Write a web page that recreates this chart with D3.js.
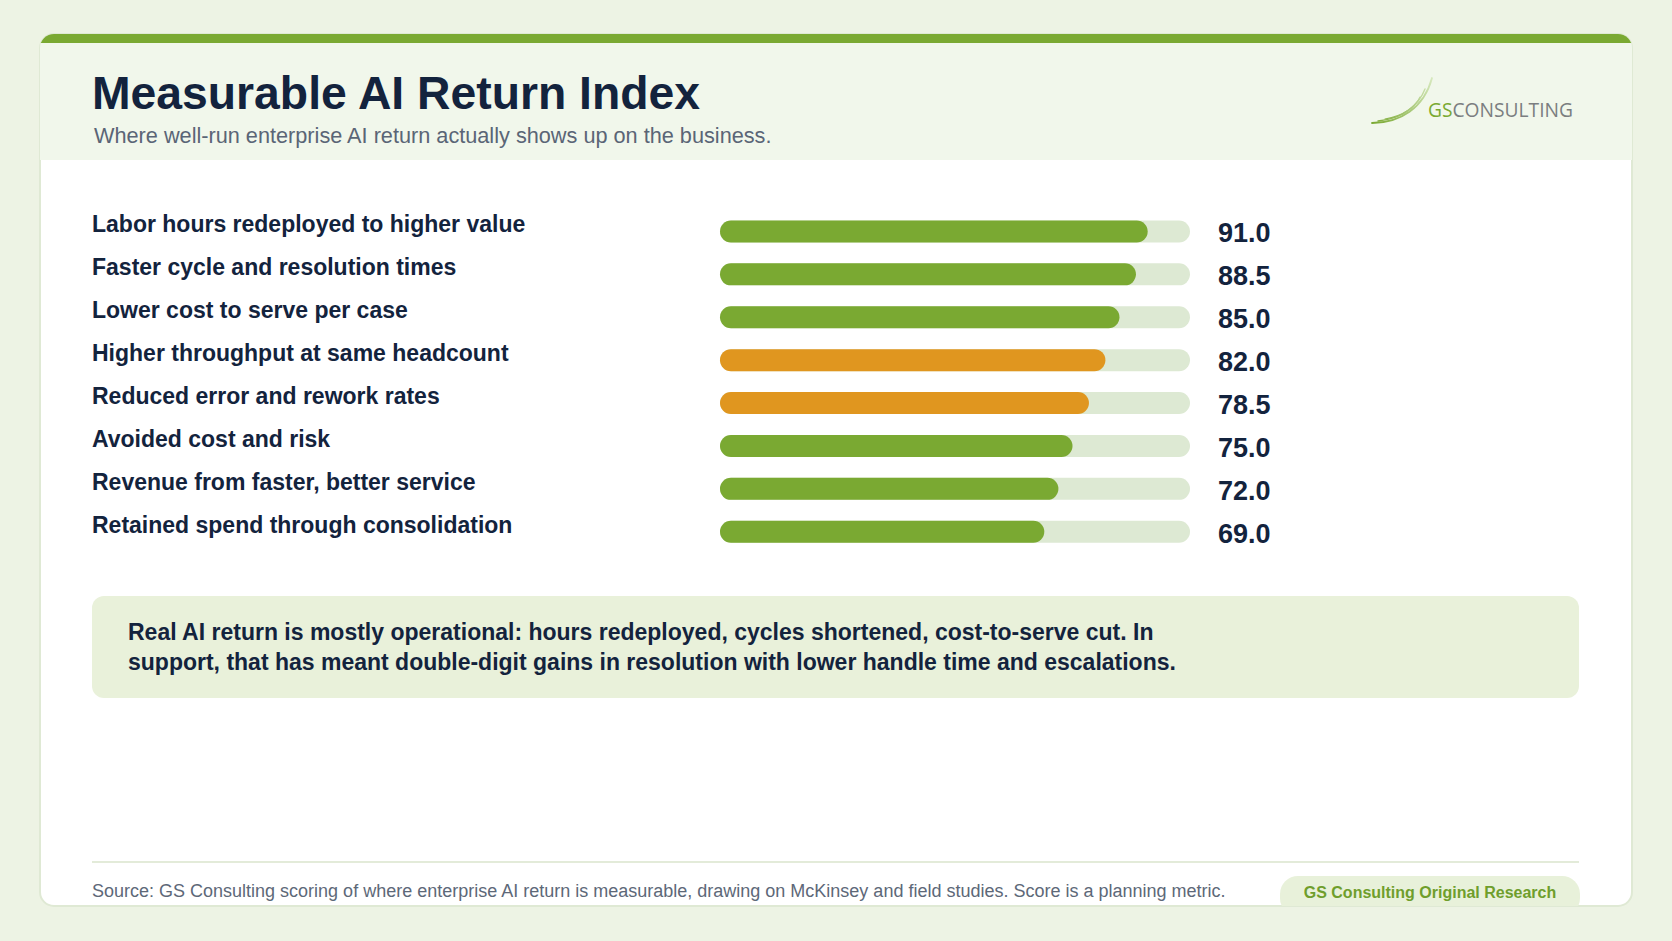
<!DOCTYPE html>
<html>
<head>
<meta charset="utf-8">
<script src="https://cdn.jsdelivr.net/npm/d3@7"></script>
<style>
  html, body { margin: 0; padding: 0; background: #edf3e4; }
  svg { display: block; font-family: "Liberation Sans", Arial, sans-serif; }
</style>
</head>
<body>
<div id="chart"></div>
<script>
var categories = [
  "Labor hours redeployed to higher value",
  "Faster cycle and resolution times",
  "Lower cost to serve per case",
  "Higher throughput at same headcount",
  "Reduced error and rework rates",
  "Avoided cost and risk",
  "Revenue from faster, better service",
  "Retained spend through consolidation"
];
var scores = [91.0, 88.5, 85.0, 82.0, 78.5, 75.0, 72.0, 69.0];
var highlighted = [
  "Higher throughput at same headcount",
  "Reduced error and rework rates"
];
var scoreDomain = [0, 100];

var title = "Measurable AI Return Index";
var subtitle = "Where well-run enterprise AI return actually shows up on the business.";
var takeaway = [
  "Real AI return is mostly operational: hours redeployed, cycles shortened, cost-to-serve cut. In",
  "support, that has meant double-digit gains in resolution with lower handle time and escalations."
];
var source = "Source: GS Consulting scoring of where enterprise AI return is measurable, drawing on McKinsey and field studies. Score is a planning metric.";
var badge = "GS Consulting Original Research";

var width = 1672, height = 941;
var navy = "#13233d", green = "#7aa932", orange = "#e0961f", track = "#dde9d3";

var svg = d3.select("#chart").append("svg")
  .attr("width", width)
  .attr("height", height);

svg.append("rect").attr("width", width).attr("height", height).attr("fill", "#edf3e4");

// card
var card = { x: 40, y: 34, w: 1592, h: 872, r: 14 };
var defs = svg.append("defs");
defs.append("clipPath").attr("id", "cardClip")
  .append("rect")
  .attr("x", card.x).attr("y", card.y)
  .attr("width", card.w).attr("height", card.h)
  .attr("rx", card.r);
var grad = defs.append("linearGradient").attr("id", "swooshGrad")
  .attr("gradientUnits", "userSpaceOnUse")
  .attr("x1", 0).attr("y1", 44).attr("x2", 60).attr("y2", 0);
grad.append("stop").attr("offset", "0%").attr("stop-color", "#7aa932");
grad.append("stop").attr("offset", "100%").attr("stop-color", "#d6e8bd");

svg.append("rect")
  .attr("x", card.x).attr("y", card.y)
  .attr("width", card.w).attr("height", card.h)
  .attr("rx", card.r)
  .attr("fill", "#ffffff")
  .attr("stroke", "#dfe9d4")
  .attr("stroke-width", 2);

var inner = svg.append("g").attr("clip-path", "url(#cardClip)");
inner.append("rect")
  .attr("x", card.x).attr("y", card.y)
  .attr("width", card.w).attr("height", 126)
  .attr("fill", "#f1f7eb");
inner.append("rect")
  .attr("x", card.x).attr("y", card.y)
  .attr("width", card.w).attr("height", 9)
  .attr("fill", green);

// header
svg.append("text")
  .attr("x", 92).attr("y", 109)
  .attr("font-size", 46.3).attr("font-weight", 700)
  .attr("fill", navy)
  .text(title);
svg.append("text")
  .attr("x", 94).attr("y", 143)
  .attr("font-size", 21.7)
  .attr("fill", "#5a6576")
  .text(subtitle);

// logo
var logo = svg.append("g").attr("transform", "translate(1372,78)");
var swoosh = [
  "M0,45 C28,45 52,30 60,0",
  "M6,43 C30,41 47,27 53,11",
  "M13,41 C32,38 44,28 48,19",
  "M20,40 C33,37 40,31 43,26"
];
logo.selectAll("path.sw").data(swoosh).enter().append("path")
  .attr("class", "sw")
  .attr("d", function(d) { return d; })
  .attr("fill", "none")
  .attr("stroke", "url(#swooshGrad)")
  .attr("stroke-linecap", "round")
  .attr("stroke-width", function(d, i) { return [1.8, 1.4, 1.2, 1][i]; });
var logoText = logo.append("text")
  .attr("x", 56).attr("y", 39)
  .attr("font-size", 20)
  .attr("font-family", "'Open Sans', sans-serif")
  .attr("font-weight", 400)
  .attr("textLength", 145)
  .attr("lengthAdjust", "spacingAndGlyphs");
logoText.append("tspan").attr("fill", green).text("GS");
logoText.append("tspan").attr("fill", "#7b7e80").text("CONSULTING");

// bars
var x = d3.scaleLinear().domain(scoreDomain).range([720, 1190]);
var y = d3.scaleBand().domain(categories).range([210, 553.2]);
var barH = 22;

var rows = svg.append("g").selectAll("g.row")
  .data(categories.map(function(c, i) { return { name: c, value: scores[i] }; }))
  .enter().append("g")
  .attr("class", "row")
  .attr("transform", function(d) { return "translate(0," + (y(d.name) + y.bandwidth() / 2) + ")"; });

rows.append("text")
  .attr("x", 92).attr("y", 1)
  .attr("font-size", 23).attr("font-weight", 700)
  .attr("fill", navy)
  .text(function(d) { return d.name; });

rows.append("rect")
  .attr("x", x(scoreDomain[0])).attr("y", -barH / 2)
  .attr("width", x(scoreDomain[1]) - x(scoreDomain[0]))
  .attr("height", barH).attr("rx", barH / 2)
  .attr("fill", track);

rows.append("rect")
  .attr("x", x(scoreDomain[0])).attr("y", -barH / 2)
  .attr("width", function(d) { return x(d.value) - x(scoreDomain[0]); })
  .attr("height", barH).attr("rx", barH / 2)
  .attr("fill", function(d) { return highlighted.indexOf(d.name) >= 0 ? orange : green; });

rows.append("text")
  .attr("x", 1218).attr("y", 2)
  .attr("dominant-baseline", "central")
  .attr("font-size", 27).attr("font-weight", 700)
  .attr("fill", navy)
  .text(function(d) { return d3.format(".1f")(d.value); });

// takeaway box
svg.append("rect")
  .attr("x", 92).attr("y", 596)
  .attr("width", 1487).attr("height", 102)
  .attr("rx", 12)
  .attr("fill", "#e9f1da");
svg.append("g").selectAll("text")
  .data(takeaway).enter().append("text")
  .attr("x", 128)
  .attr("y", function(d, i) { return 640 + i * 30; })
  .attr("font-size", 23).attr("font-weight", 700)
  .attr("fill", navy)
  .text(function(d) { return d; });

// footer
svg.append("line")
  .attr("x1", 92).attr("x2", 1579)
  .attr("y1", 862).attr("y2", 862)
  .attr("stroke", "#e3ebd9").attr("stroke-width", 2);
svg.append("text")
  .attr("x", 92).attr("y", 897)
  .attr("font-size", 18)
  .attr("fill", "#5d6878")
  .text(source);
var pill = inner.append("g");
pill.append("rect")
  .attr("x", 1280).attr("y", 876)
  .attr("width", 300).attr("height", 40)
  .attr("rx", 18)
  .attr("fill", "#e8f1da");
pill.append("text")
  .attr("x", 1430).attr("y", 898)
  .attr("text-anchor", "middle")
  .attr("font-size", 16).attr("font-weight", 700)
  .attr("fill", "#6f9e2c")
  .text(badge);
</script>
</body>
</html>
